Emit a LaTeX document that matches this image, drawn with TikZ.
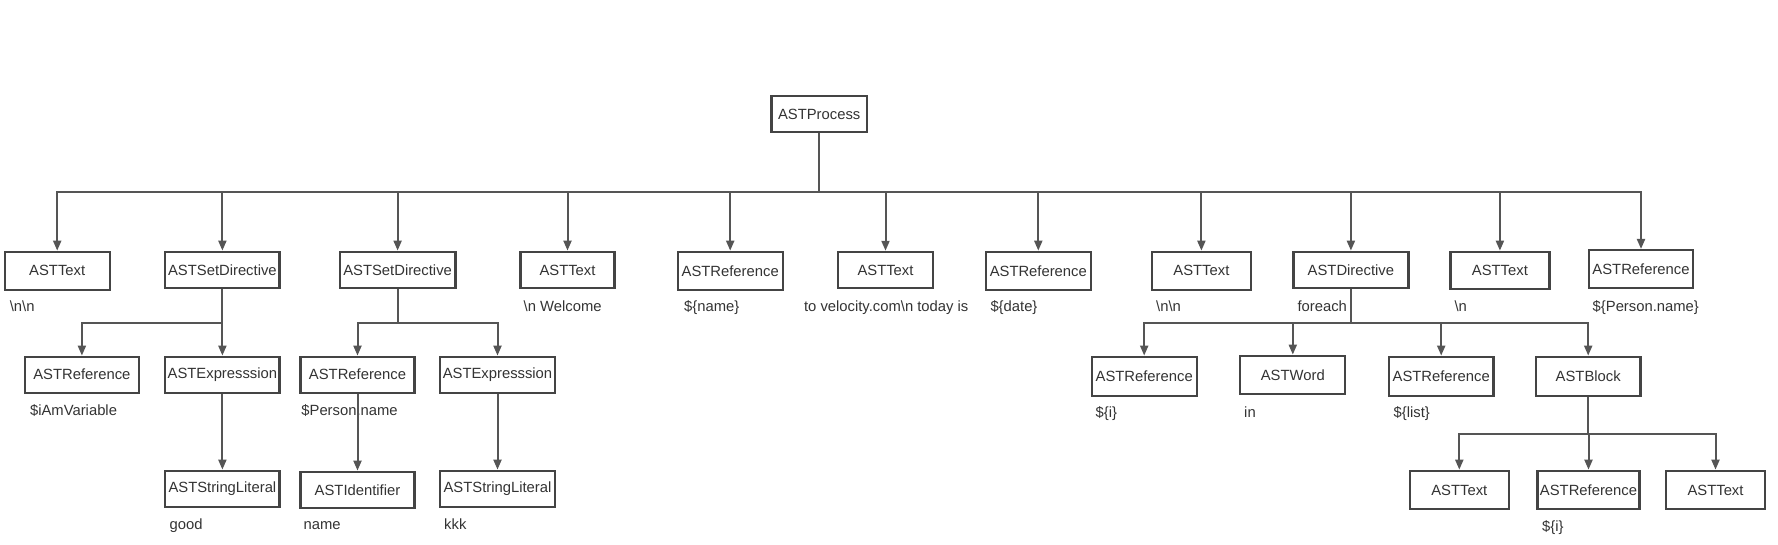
\documentclass[tikz,border=0pt]{standalone}
\usepackage{fontspec}
\setmainfont{Liberation Sans}
\usetikzlibrary{arrows.meta}
\definecolor{ln}{HTML}{555555}
\definecolor{bd}{HTML}{444444}
\definecolor{tx}{HTML}{333333}
\newcommand\mkbox[6]{\node[box,minimum width=#4pt,minimum height=#5pt] (#1) at (#2,#3) {#6};}
\newcommand\mklbl[4]{\node[lbl] (#1) at (#2,#3+5) {#4};}
\begin{document}
\begin{tikzpicture}[x=1pt,y=-1pt,
  box/.style={draw=bd,line width=2.2pt,fill=white,text=tx,font=\fontsize{14.8}{17}\selectfont,inner sep=0pt},
  lbl/.style={anchor=base west,text=tx,font=\fontsize{14.8}{17}\selectfont,inner sep=0pt},
  edge/.style={draw=ln,line width=2pt,-{Triangle[width=8pt,length=10pt]}}]
\useasboundingbox (0,0) rectangle (1778,544);
% level 0
\mkbox{P}{819.2}{114}{95.6}{36.6}{ASTProcess}
% level 1
\mkbox{t1}{57.2}{270.9}{105.2}{38.3}{ASTText}
\mkbox{sd1}{222.4}{270}{114.1}{36.6}{ASTSetDirective}
\mkbox{sd2}{397.6}{270}{115.6}{36.6}{ASTSetDirective}
\mkbox{t2}{567.5}{270}{94}{36.6}{ASTText}
\mkbox{r1}{730.2}{270.9}{105.2}{38.3}{ASTReference}
\mkbox{t3}{885.5}{270}{94.5}{36.3}{ASTText}
\mkbox{r2}{1038.3}{270.9}{105.2}{38.3}{ASTReference}
\mkbox{t4}{1201.4}{270.9}{99}{38.3}{ASTText}
\mkbox{d}{1350.9}{270}{115}{36.6}{ASTDirective}
\mkbox{t5}{1499.9}{270.4}{99}{37.3}{ASTText}
\mkbox{r3}{1641}{269.2}{104}{38.3}{ASTReference}
% level 2
\mkbox{a1}{81.9}{374.7}{114}{36}{ASTReference}
\mkbox{a2}{222.4}{374.7}{114.1}{36}{ASTExpresssion}
\mkbox{a3}{357.5}{374.7}{114.1}{36}{ASTReference}
\mkbox{a4}{497.5}{374.7}{115}{36}{ASTExpresssion}
\mkbox{b1}{1144.2}{376.2}{105}{39}{ASTReference}
\mkbox{b2}{1292.8}{375}{105}{38.6}{ASTWord}
\mkbox{b3}{1441.2}{376.2}{104.5}{39}{ASTReference}
\mkbox{b4}{1588.2}{376.2}{104.5}{39}{ASTBlock}
% level 3
\mkbox{a5}{222.4}{489}{114.1}{36.6}{ASTStringLiteral}
\mkbox{a6}{357.5}{490}{114.1}{36.6}{ASTIdentifier}
\mkbox{a7}{497.5}{489}{115}{36.6}{ASTStringLiteral}
\mkbox{c1}{1459.3}{489.9}{99}{38.3}{ASTText}
\mkbox{c2}{1588.5}{489.9}{102}{38.3}{ASTReference}
\mkbox{c3}{1715.5}{489.9}{99}{38.3}{ASTText}
% labels
\mklbl{l1}{9.6}{306.7}{\textbackslash n\textbackslash n}
\mklbl{l2}{523.5}{306.7}{\textbackslash n Welcome}
\mklbl{l3}{684}{306}{\$\{name\}}
\mklbl{l4}{803.9}{306}{to velocity.com\textbackslash n today is}
\mklbl{l5}{990.3}{306}{\$\{date\}}
\mklbl{l6}{1156}{306.7}{\textbackslash n\textbackslash n}
\mklbl{l7}{1297.4}{306.7}{foreach}
\mklbl{l8}{1454.4}{306.7}{\textbackslash n}
\mklbl{l9}{1592.5}{306.7}{\$\{Person.name\}}
\mklbl{m1}{29.9}{410}{\$iAmVariable}
\mklbl{m2}{301.2}{410}{\$Person.name}
\mklbl{m3}{1095.5}{412.7}{\$\{i\}}
\mklbl{m4}{1244}{412.7}{in}
\mklbl{m5}{1393.5}{412.7}{\$\{list\}}
\mklbl{n1}{169.5}{524}{good}
\mklbl{n2}{303.5}{524}{name}
\mklbl{n3}{444}{524}{kkk}
\mklbl{n4}{1542}{526.7}{\$\{i\}}
% edges level 0 -> 1
\foreach \c in {t1,sd1,sd2,t2,r1,t3,r2,t4,d,t5,r3}
  \draw[edge] (P.south) -- ++(0,58.7) -| (\c.north);
% level 1 -> 2
\foreach \c in {a1,a2}
  \draw[edge] (sd1.south) -- ++(0,34) -| (\c.north);
\foreach \c in {a3,a4}
  \draw[edge] (sd2.south) -- ++(0,34) -| (\c.north);
\foreach \c in {b1,b2,b3,b4}
  \draw[edge] (d.south) -- ++(0,34) -| (\c.north);
\foreach \c in {c1,c2,c3}
  \draw[edge] (b4.south) -- ++(0,37) -| (\c.north);
\draw[edge] (a2.south) -- (a5.north);
\draw[edge] (a3.south) -- (a6.north);
\draw[edge] (a4.south) -- (a7.north);
\end{tikzpicture}
\end{document}
